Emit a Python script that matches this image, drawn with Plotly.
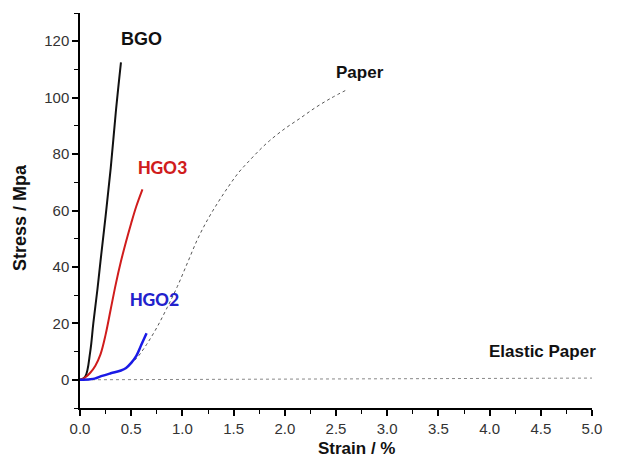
import plotly.graph_objects as go

bgo_strain = [0.0, 0.05, 0.10, 0.13, 0.17, 0.20, 0.25, 0.30, 0.35, 0.40]
bgo_stress = [0.0, 1.0, 10.0, 20.0, 32.0, 42.0, 58.0, 75.0, 95.0, 112.5]

hgo3_strain = [0.0, 0.05, 0.10, 0.15, 0.20, 0.25, 0.30, 0.35, 0.40, 0.45, 0.50, 0.55, 0.61]
hgo3_stress = [0.0, 0.8, 2.5, 5.0, 9.0, 16.0, 25.0, 34.0, 42.0, 49.0, 55.5, 61.5, 67.5]

hgo2_strain = [0.0, 0.10, 0.15, 0.20, 0.30, 0.40, 0.45, 0.50, 0.55, 0.60, 0.65]
hgo2_stress = [0.0, 0.2, 0.5, 1.2, 2.3, 3.3, 4.2, 6.0, 8.5, 12.5, 16.5]

paper_strain = [0.45, 0.55, 0.65, 0.75, 0.85, 0.95, 1.05, 1.15, 1.25, 1.35, 1.45, 1.55, 1.65, 1.75, 1.85, 2.00, 2.15, 2.30, 2.45, 2.59]
paper_stress = [4.0, 7.5, 12.5, 18.5, 25.5, 33.0, 41.5, 50.0, 57.0, 63.0, 68.5, 73.5, 77.5, 81.3, 84.7, 89.0, 92.7, 96.5, 99.8, 102.5]

elastic_strain = [0.0, 1.0, 2.0, 2.8, 3.5, 5.0]
elastic_stress = [0.0, 0.1, 0.2, 0.4, 0.5, 0.6]

labels = ["BGO", "HGO3", "HGO2", "Paper", "Elastic Paper"]
label_x = [0.60, 0.81, 0.73, 2.73, 4.52]
label_y = [120.8, 75.3, 28.6, 109.0, 10.2]
label_colors = ["#111111", "#d01c1c", "#2222cc", "#111111", "#111111"]
label_fonts = ["Arial", "Calibri, Carlito, Lato", "Calibri, Carlito, Lato", "Arial", "Arial"]
label_sizes = [18, 20, 20, 17, 17]

fig = go.Figure()
fig.add_trace(go.Scatter(x=elastic_strain, y=elastic_stress, mode="lines",
                         line=dict(color="#888888", width=1, dash="dot"), showlegend=False))
fig.add_trace(go.Scatter(x=paper_strain, y=paper_stress, mode="lines", line_shape="spline",
                         line=dict(color="#555555", width=1, dash="3px,3px"), showlegend=False))
fig.add_trace(go.Scatter(x=bgo_strain, y=bgo_stress, mode="lines", line_shape="spline",
                         line=dict(color="#111111", width=2), showlegend=False))
fig.add_trace(go.Scatter(x=hgo3_strain, y=hgo3_stress, mode="lines", line_shape="spline",
                         line=dict(color="#d01c1c", width=2), showlegend=False))
fig.add_trace(go.Scatter(x=hgo2_strain, y=hgo2_stress, mode="lines", line_shape="spline",
                         line=dict(color="#1a1ae6", width=2.5), showlegend=False))

for t, x, y, c, f, s in zip(labels, label_x, label_y, label_colors, label_fonts, label_sizes):
    fig.add_annotation(x=x, y=y, text=f"<b>{t}</b>", showarrow=False,
                       font=dict(family=f, size=s, color=c))

fig.add_annotation(xref="paper", yref="paper", x=0, y=0.481, xshift=-60,
                   xanchor="center", yanchor="middle",
                   text="<b>Stress / Mpa</b>", textangle=-90, showarrow=False,
                   font=dict(family="Arial", size=18, color="#111111"))
fig.add_annotation(xref="paper", yref="paper", x=0.541, y=0, yshift=-40,
                   xanchor="center", yanchor="middle",
                   text="<b>Strain / %</b>", showarrow=False,
                   font=dict(family="Arial", size=17, color="#111111"))

fig.update_xaxes(range=[0, 5], dtick=0.5, tick0=0, tickformat=".1f",
                 showline=True, linecolor="black", linewidth=1.5,
                 ticks="outside", ticklen=6, tickwidth=1.5, tickcolor="black",
                 minor=dict(dtick=0.25, ticks="outside", ticklen=4, tickcolor="black", tickwidth=1.2),
                 showgrid=False, zeroline=False,
                 tickfont=dict(family="Arial", size=15, color="#333333"))
fig.update_yaxes(range=[-10, 130], dtick=20, tick0=0,
                 showline=True, linecolor="black", linewidth=1.5,
                 ticks="outside", ticklen=6, tickwidth=1.5, tickcolor="black",
                 minor=dict(dtick=10, ticks="outside", ticklen=4, tickcolor="black", tickwidth=1.2),
                 showgrid=False, zeroline=False,
                 tickfont=dict(family="Arial", size=15, color="#333333"))

fig.update_layout(width=617, height=458, margin=dict(l=80, r=25, t=13, b=50),
                  plot_bgcolor="white", paper_bgcolor="white")

fig.write_html("out.html")
